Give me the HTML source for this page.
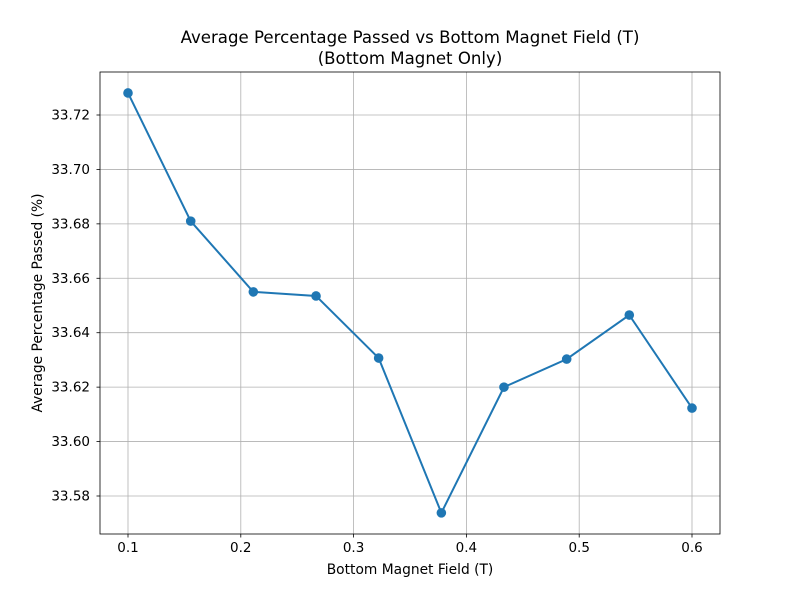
<!DOCTYPE html>
<html><head><meta charset="utf-8">
<style>
body{margin:0;background:#fff;}
svg{display:block;font-family:"DejaVu Sans","Liberation Sans",sans-serif;}
</style></head>
<body>
<svg id="chart" width="800" height="600">
<text x="410" y="43" text-anchor="middle" font-size="16.6">Average Percentage Passed vs Bottom Magnet Field (T)</text>
<text x="410" y="64" text-anchor="middle" font-size="16.6">(Bottom Magnet Only)</text>
<g id="grid"></g>
<g id="axes"></g>
<g id="series"></g>
<text x="410" y="574" text-anchor="middle" font-size="13.8">Bottom Magnet Field (T)</text>
<text transform="translate(42,303) rotate(-90)" text-anchor="middle" font-size="13.8">Average Percentage Passed (%)</text>
</svg>
<script>
const xValues=[0.1,0.1556,0.2111,0.2667,0.3222,0.3778,0.4333,0.4889,0.5444,0.6];
const yValues=[33.7281,33.6810,33.6550,33.6535,33.6307,33.5738,33.6200,33.6303,33.6465,33.6123];
const xTicks=[0.1,0.2,0.3,0.4,0.5,0.6];
const yTicks=[33.58,33.60,33.62,33.64,33.66,33.68,33.70,33.72];
const NS="http://www.w3.org/2000/svg";
const L=100,R=720,T=72,B=534;
function xs(v){return 128+(v-0.1)*1128;}
function ys(v){return 115-(v-33.72)*2721.4;}
function mk(tag,attrs,parent){const e=document.createElementNS(NS,tag);for(const k in attrs)e.setAttribute(k,attrs[k]);parent.appendChild(e);return e;}
const grid=document.getElementById('grid'),axes=document.getElementById('axes'),series=document.getElementById('series');
xTicks.forEach(t=>{
  const x=xs(t);
  const g=mk('line',{x1:x,x2:x,y1:T,y2:B,stroke:'#b0b0b0','stroke-width':0.8},grid);
  
  
  mk('line',{x1:x,x2:x,y1:B,y2:B+3.5,stroke:'#000','stroke-width':0.8},axes);
  const tx=mk('text',{x:x,y:B+18,'text-anchor':'middle','font-size':13.5},axes);
  tx.textContent=t.toFixed(1);
  
  
});
yTicks.forEach(t=>{
  const y=ys(t);
  const g=mk('line',{x1:L,x2:R,y1:y,y2:y,stroke:'#b0b0b0','stroke-width':0.8},grid);
  
  
  mk('line',{x1:L-3.5,x2:L,y1:y,y2:y,stroke:'#000','stroke-width':0.8},axes);
  const tx=mk('text',{x:L-10,y:y+4.5,'text-anchor':'end','font-size':13.5},axes);
  tx.textContent=t.toFixed(2);
  
  
});
const frame=mk('rect',{x:L,y:T,width:R-L,height:B-T,fill:'none',stroke:'#000','stroke-width':0.8},axes);


const pts=xValues.map((v,i)=>xs(v)+','+ys(yValues[i])).join(' ');
const line=mk('polyline',{points:pts,fill:'none',stroke:'#1f77b4','stroke-width':2},series);


xValues.forEach((v,i)=>{
  const c=mk('circle',{cx:xs(v),cy:ys(yValues[i]),r:4.8,fill:'#1f77b4'},series);
  
  
});
</script>
</body></html>
